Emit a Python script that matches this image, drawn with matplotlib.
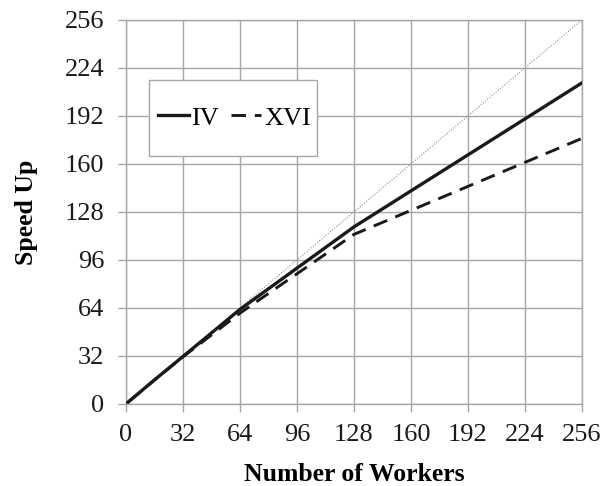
import matplotlib.pyplot as plt
from matplotlib.patches import Rectangle
import numpy as np

plt.rcParams["font.family"] = ["Liberation Serif", "DejaVu Serif"]

workers = [1, 2, 4, 8, 16, 32, 64, 128, 256]
speedup_iv = [1, 2, 4, 8, 16, 31.6, 63, 118, 214]
speedup_xvi = [1, 2, 4, 8, 16, 31.4, 60.5, 113, 177]
ideal = [0, 256]
ticks = np.arange(0, 257, 32)

fig = plt.figure(figsize=(6.03, 4.86), dpi=100)
ax = fig.add_axes([0.209, 0.169, 0.756, 0.790])

ax.plot(ideal, ideal, color="#909090", linestyle=(0, (1, 1.5)), linewidth=0.8, zorder=2)
ax.plot(workers, speedup_iv, color="#1a1a1a", linewidth=2.4, label="IV", zorder=3)
ax.plot(workers, speedup_xvi, color="#1a1a1a", linewidth=2.1, linestyle=(0, (5, 3)),
        label="XVI", zorder=3)

ax.set_xlim(0, 256)
ax.set_ylim(0, 256)
ax.set_xticks(ticks)
ax.set_yticks(ticks)
ax.grid(True, color="#a6a6a6", linewidth=1.0)
ax.set_axisbelow(True)
for s in ax.spines.values():
    s.set_color("#a6a6a6")
    s.set_linewidth(1.0)
ax.tick_params(axis="both", length=5.8, width=1.0, color="#a6a6a6",
               labelsize=19, labelcolor="#1a1a1a")
ax.tick_params(axis="x", pad=9)
ax.tick_params(axis="y", pad=10)

ax.set_xlabel("Number of Workers", fontsize=18.5, fontweight="bold", labelpad=12)
ax.set_ylabel("Speed Up", fontsize=18.5, fontweight="bold", labelpad=19)

# legend box (Excel style, wider vertical padding)
box = Rectangle((0.050, 0.646), 0.368, 0.198, transform=ax.transAxes,
                facecolor="white", edgecolor="#a6a6a6", linewidth=1.0, zorder=4)
ax.add_patch(box)
leg = ax.legend(loc="center", bbox_to_anchor=(0.238, 0.745), ncol=2, fontsize=19,
                frameon=False, handlelength=1.15, handletextpad=0.1,
                columnspacing=0.45, borderpad=0, borderaxespad=0)
leg.set_zorder(5)

fig.savefig("out.png", dpi=100)
